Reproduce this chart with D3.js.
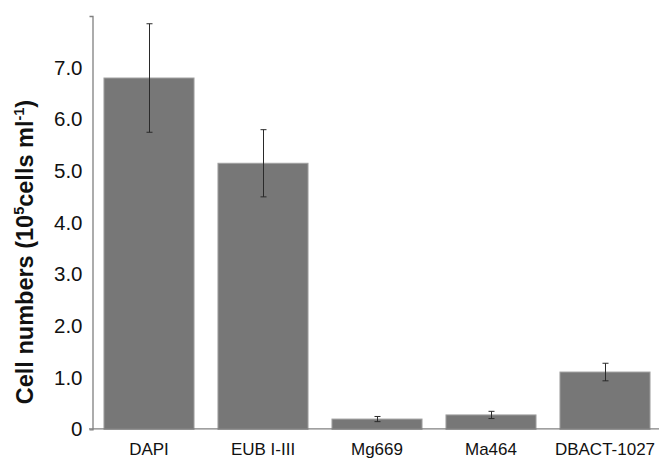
<!DOCTYPE html>
<html>
<head>
<meta charset="utf-8">
<script src="https://cdn.jsdelivr.net/npm/d3@7"></script>
<style>
  body { margin: 0; background: #fff; }
  svg { display: block; font-family: Arial, "Liberation Sans", sans-serif; }
</style>
</head>
<body>
<svg width="659" height="459"></svg>
<script>
var categories = ["DAPI", "EUB I-III", "Mg669", "Ma464", "DBACT-1027"];
var cellMeans = [6.80, 5.15, 0.20, 0.28, 1.11];
var cellErrors = [1.05, 0.65, 0.05, 0.07, 0.17];
var yTicks = [0, 1, 2, 3, 4, 5, 6, 7];

var svg = d3.select("svg");

var x = d3.scaleBand()
  .domain(categories)
  .range([92, 662])
  .paddingInner(0.21)
  .paddingOuter(0.105);

var y = d3.scaleLinear()
  .domain([0, 8])
  .range([429.4, 16]);

var data = categories.map(function(c, i) {
  return {name: c, value: cellMeans[i], err: cellErrors[i]};
});

// bars
svg.append("g").selectAll("rect")
  .data(data)
  .enter().append("rect")
  .attr("x", function(d) { return x(d.name); })
  .attr("y", function(d) { return y(d.value); })
  .attr("width", x.bandwidth())
  .attr("height", function(d) { return y(0) - y(d.value); })
  .attr("fill", "#777777")
  .attr("stroke", "#a0a0a0")
  .attr("stroke-width", 1);

// error bars
var eb = svg.append("g").attr("stroke", "#2a2a2a").attr("stroke-width", 1);
data.forEach(function(d) {
  var cx = Math.round(x(d.name) + x.bandwidth() / 2) + 0.5;
  eb.append("line").attr("x1", cx).attr("x2", cx)
    .attr("y1", y(d.value + d.err)).attr("y2", y(d.value - d.err));
  eb.append("line").attr("x1", cx - 3).attr("x2", cx + 3)
    .attr("y1", y(d.value + d.err)).attr("y2", y(d.value + d.err));
  eb.append("line").attr("x1", cx - 3).attr("x2", cx + 3)
    .attr("y1", y(d.value - d.err)).attr("y2", y(d.value - d.err));
});

// x axis line
svg.append("line")
  .attr("x1", 89).attr("x2", 659)
  .attr("y1", y(0) - 0.5).attr("y2", y(0) - 0.5)
  .attr("stroke", "#808080").attr("stroke-width", 1.3);

// x labels
svg.append("g").selectAll("text")
  .data(categories)
  .enter().append("text")
  .attr("x", function(d) { return x(d) + x.bandwidth() / 2; })
  .attr("y", 455)
  .attr("text-anchor", "middle")
  .attr("font-size", 17)
  .attr("fill", "#111")
  .text(function(d) { return d; });

// y axis
var yAxis = svg.append("g")
  .attr("transform", "translate(92.5,0)")
  .call(d3.axisLeft(y)
    .tickValues(yTicks)
    .tickSizeInner(0)
    .tickSizeOuter(3)
    .tickPadding(10)
    .tickFormat(function(d) { return d === 0 ? "0" : d3.format(".1f")(d); }));

yAxis.select(".domain").attr("stroke", "#808080").attr("stroke-width", 1.3);
yAxis.selectAll("text")
  .attr("font-size", 20.5)
  .attr("font-family", "Arial, 'Liberation Sans', sans-serif")
  .attr("fill", "#111");

// y title
var title = svg.append("text")
  .attr("transform", "translate(33,252) rotate(-90)")
  .attr("text-anchor", "middle")
  .attr("font-size", 23.5)
  .attr("font-weight", "bold")
  .attr("fill", "#111");
title.append("tspan").text("Cell numbers (10");
title.append("tspan").attr("font-size", 14.5).attr("dy", -9).text("5");
title.append("tspan").attr("dy", 9).text("cells ml");
title.append("tspan").attr("font-size", 14.5).attr("dy", -9).text("-1");
title.append("tspan").attr("dy", 9).text(")");
</script>
</body>
</html>
